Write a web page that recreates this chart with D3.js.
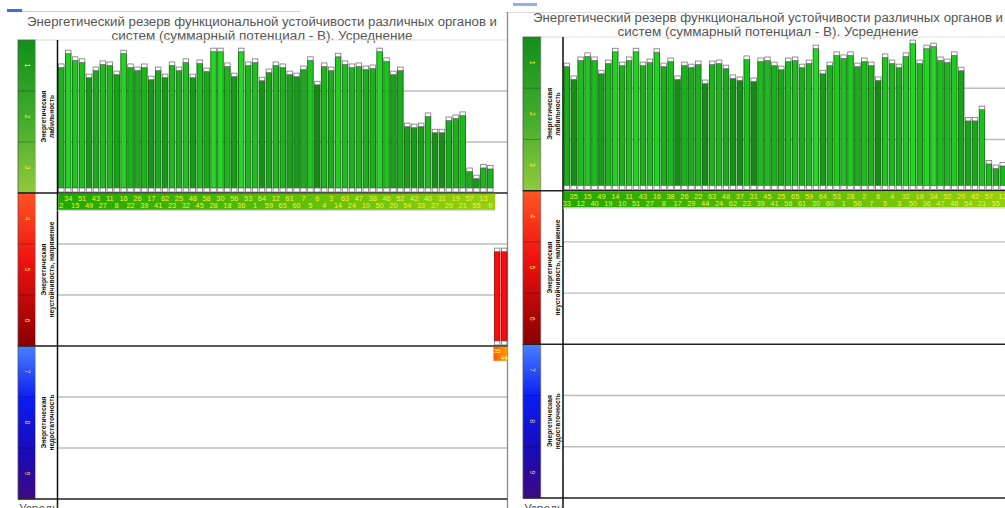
<!DOCTYPE html>
<html><head><meta charset="utf-8">
<script src="https://cdn.jsdelivr.net/npm/d3@7"></script>
<style>html,body{margin:0;padding:0;background:#fff;overflow:hidden}</style>
</head><body>
<svg id="c" width="1005" height="508"></svg>
<script>
// ---------- DATA ----------
const titleLines = ["Энергетический резерв функциональной устойчивости различных органов и",
                    "систем (суммарный потенциал - В). Усреднение"];
const levelTicks = [1, 2, 3, 4, 5, 6, 7, 8, 9];
const zoneNames = [["Энергетическая", "лабильность"],
                   ["Энергетическая", "неустойчивость, напряжение"],
                   ["Энергетическая", "недостаточность"]];
const footerText = "Усредн";

// left screenshot: organ/system numbers in bar order and bar-top level (0 = top of scale, 9 = bottom)
const leftGreenLabels = ["2","34","15","51","49","43","27","11","8","16","22","26","39","17","41","62","23","25","32","48",
  "45","58","28","30","18","56","36","53","1","64","59","12","65","61","60","7","5","6","4","3",
  "14","63","24","47","10","38","50","46","20","52","54","42","33","40","37","31","29","19","21","57",
  "55","13","9"];
const leftGreenValues = [0.47,0.20,0.33,0.37,0.67,0.53,0.41,0.43,0.61,0.20,0.47,0.53,0.47,0.71,0.53,0.67,0.43,0.53,0.37,0.67,
  0.39,0.55,0.16,0.16,0.45,0.65,0.16,0.43,0.37,0.73,0.57,0.43,0.47,0.61,0.65,0.51,0.33,0.81,0.45,0.53,
  0.26,0.41,0.47,0.45,0.51,0.49,0.16,0.35,0.61,0.53,1.63,1.65,1.63,1.43,1.75,1.75,1.51,1.47,1.41,2.51,
  2.65,2.44,2.46];
const leftRedLabels = ["35","44"];
const leftRedValues = [4.08, 4.08];

// right screenshot
const rightGreenLabels = ["33","35","12","15","40","49","19","14","10","11","51","43","27","16","8","38","17","26","29","22",
  "44","63","24","48","62","37","23","31","39","45","41","25","58","65","61","59","30","64","60","53",
  "1","28","56","2","7","6","5","4","3","32","50","18","36","34","47","52","46","20","54","42",
  "21","57","55","13","9"];
const rightGreenValues = [0.51,0.76,0.39,0.31,0.39,0.65,0.45,0.22,0.49,0.39,0.22,0.49,0.43,0.23,0.51,0.41,0.76,0.49,0.53,0.47,
  0.84,0.47,0.45,0.55,0.74,0.78,0.37,0.80,0.41,0.39,0.49,0.57,0.41,0.39,0.53,0.45,0.16,0.65,0.49,0.29,
  0.35,0.29,0.51,0.41,0.49,0.78,0.33,0.45,0.53,0.31,0.06,0.45,0.16,0.12,0.39,0.43,0.29,0.59,1.57,1.57,
  1.35,2.41,2.50,2.45,2.50];
const rightRedLabels = [];
const rightRedValues = [];

// ---------- DRAWING ----------
const svg = d3.select("#c");
const defs = svg.append("defs");
function grad(id, stops, horiz) {
  const g = defs.append("linearGradient").attr("id", id)
    .attr("x1", 0).attr("y1", 0).attr("x2", horiz ? 1 : 0).attr("y2", horiz ? 0 : 1);
  stops.forEach(s => g.append("stop").attr("offset", s[0]).attr("stop-color", s[1]));
}
grad("zg", [[0,"#10901a"],[0.5,"#40ab2c"],[1,"#92c93c"]]);
grad("zr", [[0,"#ff5522"],[0.45,"#ee1111"],[1,"#880000"]]);
grad("zb", [[0,"#4a80ff"],[0.35,"#0a1cf0"],[0.7,"#1a0ab8"],[1,"#3d0a80"]]);
grad("band", [[0,"#1fa800"],[1,"#95d010"]], true);
grad("rband", [[0,"#ff5a00"],[1,"#ffa000"]], true);
const zoneFill = ["url(#zg)", "url(#zr)", "url(#zb)"];
const tickColor = ["#ffee22", "#ffdd22", "#e6cf70"];

// toolbar remnants at the top of each screenshot
svg.append("rect").attr("x", 7).attr("y", 9).attr("width", 15).attr("height", 3).attr("fill", "#3c6fd6");
svg.append("line").attr("x1", 22).attr("x2", 300).attr("y1", 11.5).attr("y2", 11.5).attr("stroke", "#cfcfcf");
svg.append("rect").attr("x", 513).attr("y", 3).attr("width", 24).attr("height", 3).attr("fill", "#8fb0e8");
svg.append("line").attr("x1", 505).attr("x2", 760).attr("y1", 12.5).attr("y2", 12.5).attr("stroke", "#dcdcdc");

function drawPanel(P, gLabels, gValues, rLabels, rValues) {
  const g = svg.append("g");
  const y = d3.scaleLinear().domain([0, 9]).range([P.yTop, P.yBot]);
  const n = gValues.length + rValues.length;
  const step = 6.915;
  const x = d3.scaleBand().domain(d3.range(n))
    .range([P.plotL + 0.5, P.plotL + 0.5 + n * step]).paddingInner(0.2).paddingOuter(0.08);
  const bw = x.bandwidth();

  // title
  const titleLen = [470, 301];
  g.append("g").selectAll("text").data(titleLines).join("text")
    .attr("x", P.titleX).attr("y", (d, i) => P.titleY + i * 14.5)
    .attr("text-anchor", "middle").attr("font-family", "Arial, 'Liberation Sans', sans-serif")
    .attr("font-size", 12).attr("fill", "#555")
    .attr("textLength", (d, i) => titleLen[i]).attr("lengthAdjust", "spacingAndGlyphs")
    .text(d => d);

  // colour scale column
  [0, 1, 2].forEach(z => {
    g.append("rect").attr("x", P.colL).attr("y", y(z * 3)).attr("width", P.colR - P.colL)
      .attr("height", y(3) - y(0)).attr("fill", zoneFill[z]).attr("stroke", "#555").attr("stroke-width", 0.8);
    g.append("rect").attr("x", P.colR).attr("y", y(z * 3)).attr("width", P.plotL - P.colR)
      .attr("height", y(3) - y(0)).attr("fill", "#fff").attr("stroke", "#bbb").attr("stroke-width", 0.6);
    const cy = y(z * 3 + 1.5), cx = (P.colR + P.plotL) / 2 + 1;
    const t = g.append("text").attr("transform", `translate(${cx},${cy}) rotate(-90)`)
      .attr("text-anchor", "middle").attr("font-family", "Arial, 'Liberation Sans', sans-serif")
      .attr("font-size", 6.6).attr("font-weight", "bold").attr("fill", "#111");
    zoneNames[z].forEach((s, i) => t.append("tspan").attr("x", 0).attr("dy", i === 0 ? -1.5 : 8).text(s));
  });
  // level separators inside the colour column
  g.append("g").selectAll("line").data(levelTicks.filter(d => d % 3 !== 0)).join("line")
    .attr("x1", P.colL).attr("x2", P.colR).attr("y1", d => y(d)).attr("y2", d => y(d))
    .attr("stroke", "rgba(0,0,0,0.25)").attr("stroke-width", 1);
  // level numbers
  g.append("g").selectAll("text").data(levelTicks).join("text")
    .attr("transform", d => `translate(${(P.colL + P.colR) / 2 - 2},${y(d - 0.5)}) rotate(90)`)
    .attr("text-anchor", "middle").attr("font-family", "Arial, sans-serif").attr("font-size", 7)
    .attr("fill", d => tickColor[Math.floor((d - 1) / 3)]).text(d => d);

  // grid lines in plot area
  g.append("line").attr("x1", P.plotL).attr("x2", P.plotR).attr("y1", y(0)).attr("y2", y(0))
    .attr("stroke", "#e2e2e2").attr("stroke-width", 1);
  g.append("g").selectAll("line").data(levelTicks.filter(d => d % 3 !== 0)).join("line")
    .attr("x1", P.plotL).attr("x2", P.plotR).attr("y1", d => y(d)).attr("y2", d => y(d))
    .attr("stroke", "#bdbdbd").attr("stroke-width", 1.4);
  // right border
  if (P.border) g.append("line").attr("x1", P.plotR).attr("x2", P.plotR).attr("y1", 12).attr("y2", 508)
    .attr("stroke", "#8a8a8a").attr("stroke-width", 1.3);

  // green bars (zone 1, growing from level 3 upwards)
  const shade = d3.scaleLinear().domain([0.18, 0.78]).range([0, 1]).clamp(true);
  const greenCol = v => d3.interpolateRgb("#22d822", "#148c14")(shade(v - Math.floor(v)));
  const base = y(3);
  const gb = g.append("g").selectAll("g").data(gValues).join("g");
  gb.append("rect").attr("x", (d, i) => x(i)).attr("width", bw)
    .attr("y", d => y(d) + 3.5).attr("height", d => base - 5 - (y(d) + 3.5))
    .attr("fill", d => greenCol(d)).attr("stroke", "#0b5a0b").attr("stroke-width", 0.8);
  gb.append("rect").attr("x", (d, i) => x(i)).attr("width", bw)
    .attr("y", d => y(d)).attr("height", 3.5)
    .attr("fill", "#fff").attr("stroke", "#777").attr("stroke-width", 0.8);
  gb.append("rect").attr("x", (d, i) => x(i)).attr("width", bw)
    .attr("y", base - 5).attr("height", 4)
    .attr("fill", "#fff").attr("stroke", "#777").attr("stroke-width", 0.8);

  // red bars (zone 2, growing from level 6 upwards)
  const rbase = y(6);
  const off = gValues.length;
  const rb = g.append("g").selectAll("g").data(rValues).join("g");
  rb.append("rect").attr("x", (d, i) => x(off + i)).attr("width", bw)
    .attr("y", d => y(d) + 3.5).attr("height", d => rbase - 5 - (y(d) + 3.5))
    .attr("fill", "#ff0a0a").attr("stroke", "#8a0000").attr("stroke-width", 0.8);
  rb.append("rect").attr("x", (d, i) => x(off + i)).attr("width", bw)
    .attr("y", d => y(d)).attr("height", 3.5)
    .attr("fill", "#fff").attr("stroke", "#777").attr("stroke-width", 0.8);
  rb.append("rect").attr("x", (d, i) => x(off + i)).attr("width", bw)
    .attr("y", rbase - 5).attr("height", 4)
    .attr("fill", "#fff").attr("stroke", "#777").attr("stroke-width", 0.8);

  // zone borders (black)
  g.append("g").selectAll("line").data([3, 6, 9]).join("line")
    .attr("x1", P.colL).attr("x2", P.plotR).attr("y1", d => y(d)).attr("y2", d => y(d))
    .attr("stroke", "#222").attr("stroke-width", 1.5);
  g.append("line").attr("x1", P.plotL).attr("x2", P.plotL).attr("y1", y(0)).attr("y2", 508)
    .attr("stroke", "#111").attr("stroke-width", 1.5);

  // label band for green bars
  const bandR = x(off - 1) + bw + 2;
  g.append("rect").attr("x", P.plotL + 0.8).attr("y", base + 0.8).attr("width", bandR - P.plotL - 0.8)
    .attr("height", 16).attr("fill", "url(#band)");
  g.append("line").attr("x1", P.plotL).attr("x2", bandR).attr("y1", base + 17.5).attr("y2", base + 17.5)
    .attr("stroke", "#d8d8d8").attr("stroke-width", 1);
  g.append("g").selectAll("text").data(gLabels).join("text")
    .attr("x", (d, i) => x(i) + bw / 2).attr("y", (d, i) => base + (i % 2 ? 8 : 15))
    .attr("text-anchor", "middle").attr("font-family", "Arial, sans-serif").attr("font-size", 7.4)
    .attr("fill", "#f4f040").text(d => d);

  // label band for red bars
  if (rValues.length) {
    const rl = x(off) - 1;
    g.append("rect").attr("x", rl).attr("y", rbase + 0.8).attr("width", P.plotR - rl)
      .attr("height", 14).attr("fill", "url(#rband)");
    g.append("g").selectAll("text").data(rLabels).join("text")
      .attr("x", (d, i) => x(off + i) + bw / 2).attr("y", (d, i) => rbase + ((off + i) % 2 ? 7 : 13.5))
      .attr("text-anchor", "middle").attr("font-family", "Arial, sans-serif").attr("font-size", 6)
      .attr("fill", "#ffff80").text(d => d);
  }

  // footer
  g.append("text").attr("x", P.colL + 1).attr("y", 512.5).attr("font-family", "Arial, sans-serif")
    .attr("font-size", 12).attr("fill", "#555").text(footerText);
}

drawPanel({colL: 18, colR: 35.5, plotL: 57.5, plotR: 507.5, yTop: 40, yBot: 499,
           titleX: 262, titleY: 25.5, border: true},
          leftGreenLabels, leftGreenValues, leftRedLabels, leftRedValues);
drawPanel({colL: 523, colR: 541, plotL: 563, plotR: 1014, yTop: 37, yBot: 498,
           titleX: 768, titleY: 21.5, border: false},
          rightGreenLabels, rightGreenValues, rightRedLabels, rightRedValues);
</script>
</body></html>
